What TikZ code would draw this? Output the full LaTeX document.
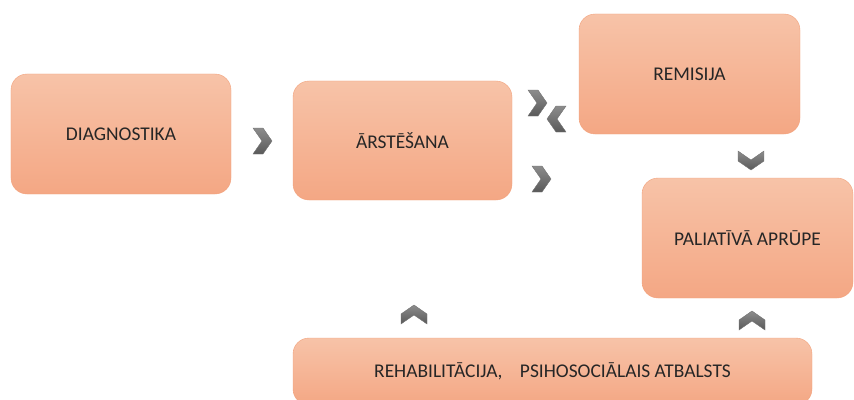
\documentclass[tikz,border=0pt]{standalone}
\usepackage{fontspec}
\setmainfont{Carlito}
\usepackage{tikz}
\usetikzlibrary{positioning}

\definecolor{boxtop}{HTML}{F7C3A8}
\definecolor{boxbot}{HTML}{F4A784}
\definecolor{boxline}{HTML}{F2A27C}
\definecolor{boxtext}{HTML}{262626}

\tikzset{
    stage/.style={rectangle, draw=boxline, rounded corners=16bp, top color=boxtop, bottom color=boxbot,
        text=boxtext, font=\fontsize{19.5}{22}\selectfont, minimum width=220bp, minimum height=120bp, inner sep=4pt},
    chev/.pic={\path[top color=black!45, bottom color=black!65, draw=black!55, line width=0.4pt]
        (-9,13) -- (1,13) -- (10,0) -- (1,-13) -- (-9,-13) -- (0,0) -- cycle;}
}

\begin{document}
\begin{tikzpicture}[x=1bp, y=1bp]
    \useasboundingbox (0,0) rectangle (854,399);
    % the stages
    \node[stage] (diag) at (121,265) {DIAGNOSTIKA};
    \node[stage, minimum width=219bp, minimum height=119bp] (arst) at (402.5,258.5) {ĀRSTĒŠANA};
    \node[stage, minimum width=221bp] (rem) at (689.5,325) {REMISIJA};
    \node[stage, minimum width=211bp] (pal) at (747.5,161) {PALIATĪVĀ APRŪPE};
    \node[stage, minimum width=519bp, minimum height=67bp] (reh) at (552.5,27.5)
        {REHABILITĀCIJA,\hspace{0.9em}PSIHOSOCIĀLAIS ATBALSTS};

    % chevrons between the stages
    \pic at (262,258) {chev};
    \pic at (537,296) {chev};
    \pic[rotate=180] at (557,280) {chev};
    \pic at (541,220) {chev};
    \pic[rotate=-90] at (751,239) {chev};
    \pic[rotate=90] at (414,84) {chev};
    \pic[rotate=90] at (752,78) {chev};
\end{tikzpicture}
\end{document}
